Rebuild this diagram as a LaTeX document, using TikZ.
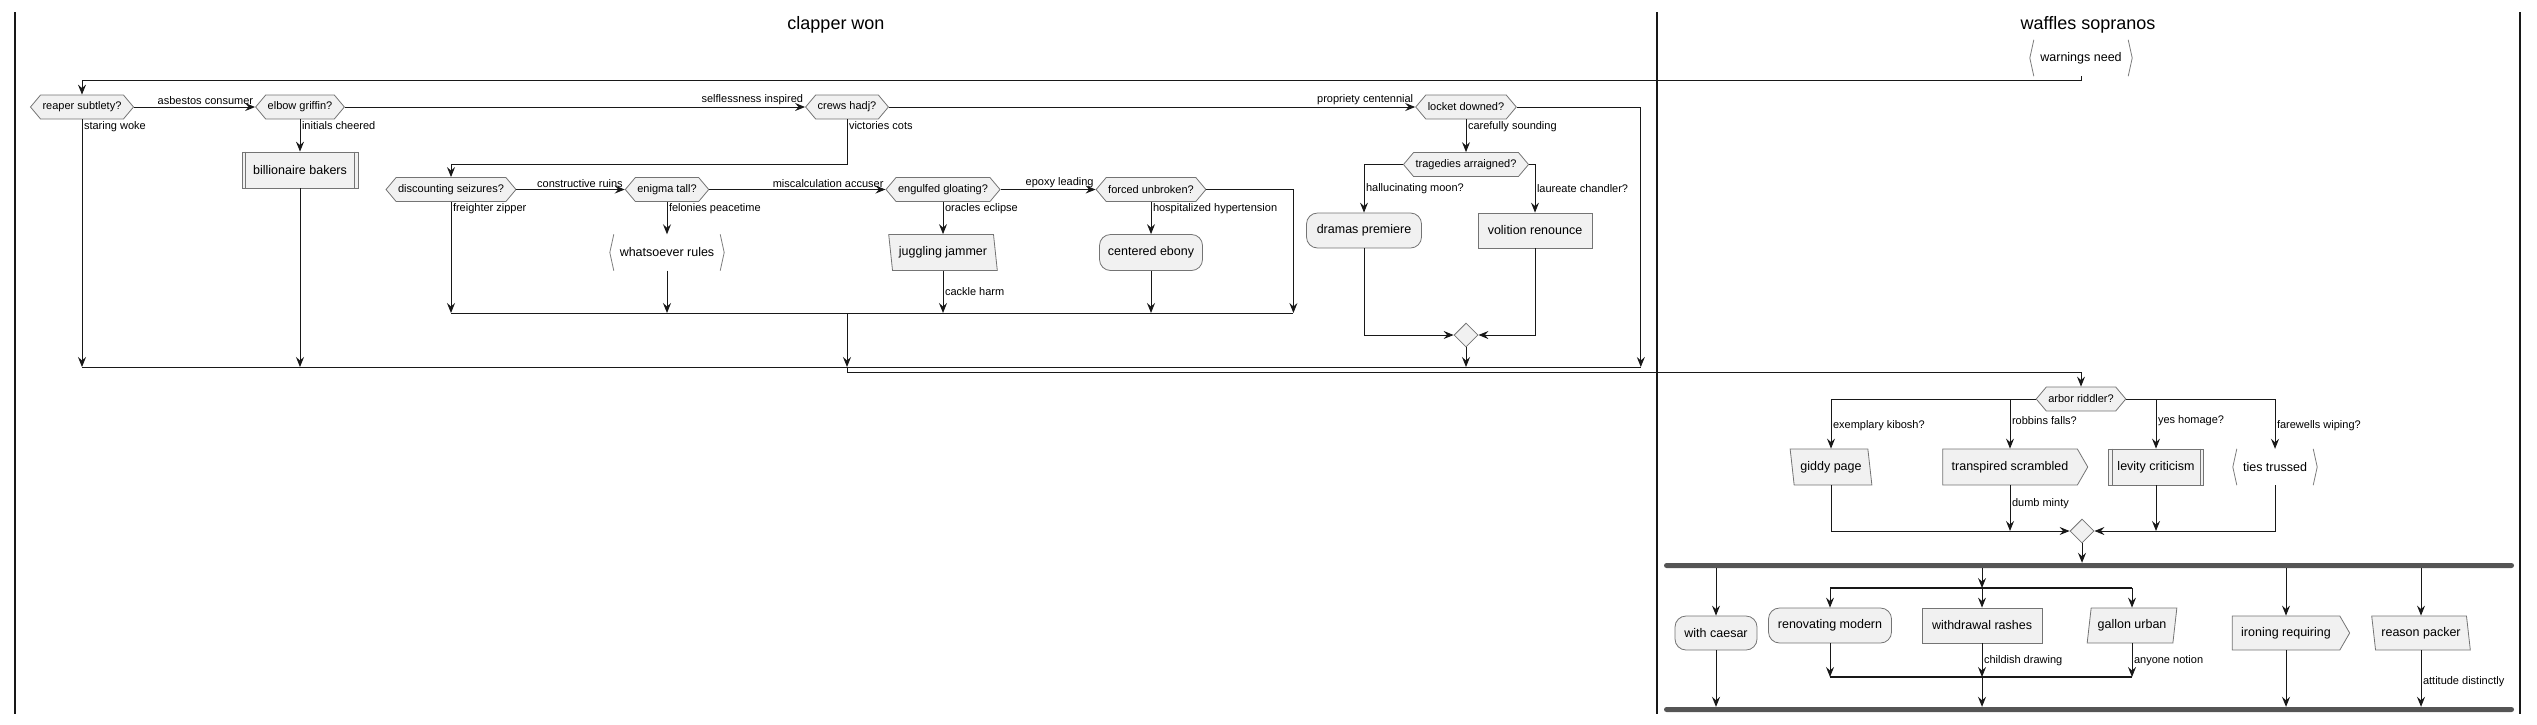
\documentclass[tikz,border=0pt]{standalone}
\usepackage{fontspec}
\setmainfont{Liberation Sans}
\usetikzlibrary{arrows.meta,shapes.geometric,shapes.symbols}

\definecolor{boxfill}{HTML}{F1F1F1}
\definecolor{ink}{HTML}{181818}
\definecolor{boxline}{HTML}{747474}
\definecolor{barfill}{HTML}{555555}
\definecolor{chevgray}{HTML}{7C7C7C}

\tikzset{
  basebox/.style={fill=boxfill, draw=boxline, line width=0.8pt, font=\fontsize{12.5}{14}\selectfont, inner sep=0pt, minimum height=36pt},
  roundbox/.style={basebox, rounded corners=11pt},
  actbox/.style={basebox},
  subbox/.style={basebox},
  slantl/.style={basebox, trapezium, trapezium left angle=106, trapezium right angle=74, trapezium stretches=true},
  slantr/.style={basebox, trapezium, trapezium left angle=74, trapezium right angle=106, trapezium stretches=true},
  sendbox/.style={basebox, signal, signal to=east, signal pointer angle=120, inner xsep=9pt},
  chev/.style={font=\fontsize{12.5}{14}\selectfont, inner sep=0pt, minimum height=36pt},
  chevpen/.style={draw=chevgray, line width=0.8pt},
  dec/.style={fill=boxfill, draw=boxline, line width=0.8pt, signal, signal to=west and east, signal pointer angle=100,
    font=\fontsize{11}{13}\selectfont, minimum height=24pt, inner xsep=2pt, inner ysep=0pt},
  joindiamond/.style={diamond, fill=boxfill, draw=boxline, line width=0.8pt, minimum width=24pt, minimum height=24pt, inner sep=0pt},
  forkbar/.style={fill=barfill, rounded corners=2.5pt, minimum height=5pt, inner sep=0pt},
  lbl/.style={font=\fontsize{11}{13}\selectfont, inner sep=1.5pt},
  lanetitle/.style={font=\fontsize{18}{22}\selectfont},
  lanepen/.style={draw=ink, line width=1.5pt},
  wire/.style={draw=ink, line width=1pt},
  flow/.style={wire, -{Stealth[length=10pt,width=8pt,inset=3.5pt]}},
}

\begin{document}
\begin{tikzpicture}[x=1pt,y=-1pt]
\useasboundingbox (0,0) rectangle (2537,724);

% swimlanes
\draw[lanepen] (15,12) -- (15,714);
\draw[lanepen] (1657,12) -- (1657,714);
\draw[lanepen] (2520,12) -- (2520,714);
\node[lanetitle] (clapper) at (836,25) {clapper won};
\node[lanetitle] (waffles) at (2088,25) {waffles sopranos};

% clapper won
\node[dec] (reaper) at (82,107) {reaper subtlety?};
\node[dec] (elbow) at (300,107) {elbow griffin?};
\node[dec] (crews) at (847,107) {crews hadj?};
\node[dec] (locket) at (1466,107) {locket downed?};
\node[subbox, minimum width=116pt] (bakers) at (300,170) {billionaire bakers};
\node[dec] (disc) at (451,189.5) {discounting seizures?};
\node[dec] (enigma) at (667,189.5) {enigma tall?};
\node[dec] (engulf) at (943,189.5) {engulfed gloating?};
\node[dec] (forced) at (1151,189.5) {forced unbroken?};
\node[dec] (trag) at (1466,164.5) {tragedies arraigned?};
\node[chev, minimum width=114pt] (whatso) at (667,252.5) {whatsoever rules};
\node[slantl, minimum width=109pt] (juggle) at (943,252.5) {juggling jammer};
\node[roundbox, minimum width=103pt] (ebony) at (1151,252.5) {centered ebony};
\node[roundbox, minimum width=115pt, minimum height=35pt] (dramas) at (1364,230.5) {dramas premiere};
\node[actbox, minimum width=114pt, minimum height=35pt] (volition) at (1535,230.5) {volition renounce};
\node[joindiamond] (joina) at (1466,335) {};
\coordinate (m1) at (847,313);
\coordinate (m2) at (847,367);

% waffles sopranos
\node[chev, minimum width=102pt] (warn) at (2081,58) {warnings need};
\node[dec] (arbor) at (2081,399) {arbor riddler?};
\node[slantl, minimum width=82pt] (giddy) at (1831,467) {giddy page};
\node[sendbox] (trans) at (2010,467) {transpired scrambled};
\node[subbox, minimum width=95pt] (levity) at (2156,467) {levity criticism};
\node[chev, minimum width=84pt] (ties) at (2275,467) {ties trussed};
\node[joindiamond] (joinb) at (2082,531) {};
\node[forkbar, minimum width=850pt] (fork) at (2089,565.5) {};
\node[roundbox, minimum width=82pt, minimum height=34pt] (caesar) at (1716,633) {with caesar};
\node[roundbox, minimum width=123pt, minimum height=35pt] (reno) at (1830,625.5) {renovating modern};
\node[actbox, minimum width=120pt, minimum height=35pt] (rashes) at (1982,625.5) {withdrawal rashes};
\node[slantr, minimum width=90pt, minimum height=35pt] (gallon) at (2132,625.5) {gallon urban};
\node[sendbox, minimum height=34pt] (ironing) at (2286,633) {ironing requiring};
\node[slantl, minimum width=99pt, minimum height=34pt] (packer) at (2421,633) {reason packer};
\node[forkbar, minimum width=850pt] (joinbar) at (2089,709.5) {};
\coordinate (f2) at (1982,588);
\coordinate (j3) at (1982,677);

% odd borders
\foreach \n in {warn,whatso,ties}{
  \draw[chevpen] ([xshift=4pt]\n.north west) -- (\n.west) -- ([xshift=4pt]\n.south west);
  \draw[chevpen] ([xshift=-4pt]\n.north east) -- (\n.east) -- ([xshift=-4pt]\n.south east);
}
\foreach \n in {bakers,levity}{
  \draw[boxline, line width=0.8pt] ([xshift=4pt]\n.north west) -- ([xshift=4pt]\n.south west);
  \draw[boxline, line width=0.8pt] ([xshift=-4pt]\n.north east) -- ([xshift=-4pt]\n.south east);
}

% connectors, first lane
\draw[flow] (warn.south) -- ++(0,4) -| (reaper.north);
\draw[flow] (reaper.east) -- node[lbl, at end, anchor=south east] {asbestos consumer} (elbow.west);
\draw[flow] (elbow.east) -- node[lbl, at end, anchor=south east] {selflessness inspired} (crews.west);
\draw[flow] (crews.east) -- node[lbl, at end, anchor=south east] {propriety centennial} (locket.west);
\draw[flow] (reaper.south) -- node[lbl, at start, anchor=north west] {staring woke} (reaper.south |- m2);
\draw[flow] (elbow.south) -- node[lbl, at start, anchor=north west] {initials cheered} (bakers.north);
\draw[flow] (bakers.south) -- (bakers.south |- m2);
\draw[flow] (crews.south) -- node[lbl, at start, anchor=north west] {victories cots} ++(0,45) -| (disc.north);
\draw[flow] (locket.east) -- ++(124,0) coordinate (lr) -- (lr |- m2);
\draw[flow] (locket.south) -- node[lbl, at start, anchor=north west] {carefully sounding} (trag.north);

\draw[flow] (disc.east) -- node[lbl, at end, anchor=south east] {constructive ruins} (enigma.west);
\draw[flow] (enigma.east) -- node[lbl, at end, anchor=south east] {miscalculation accuser} (engulf.west);
\draw[flow] (engulf.east) -- node[lbl, at end, anchor=south east] {epoxy leading} (forced.west);
\draw[flow] (disc.south) -- node[lbl, at start, anchor=north west] {freighter zipper} (disc.south |- m1);
\draw[flow] (enigma.south) -- node[lbl, at start, anchor=north west] {felonies peacetime} (whatso.north);
\draw[flow] (engulf.south) -- node[lbl, at start, anchor=north west] {oracles eclipse} (engulf.south |- juggle.north);
\draw[flow] (forced.south) -- node[lbl, at start, anchor=north west] {hospitalized hypertension} (ebony.north);
\draw[flow] (forced.east) -- ++(87,0) coordinate (fr) -- (fr |- m1);
\draw[flow] (whatso.south) -- (whatso.south |- m1);
\draw[flow] (juggle.center |- juggle.south) -- node[lbl, midway, anchor=west] {cackle harm} (juggle.center |- m1);
\draw[flow] (ebony.south) -- (ebony.south |- m1);
\draw[wire] (disc.south |- m1) -- (fr |- m1);

\draw[flow] (trag.west) -| node[lbl, pos=0.75, anchor=west] {hallucinating moon?} (dramas.north);
\draw[flow] (trag.east) -| node[lbl, pos=0.75, anchor=west] {laureate chandler?} (volition.north);
\draw[flow] (dramas.south) |- (joina.west);
\draw[flow] (volition.south) |- (joina.east);
\draw[flow] (joina.south) -- (joina.south |- m2);

\draw[flow] (m1) -- (m2);
\draw[wire] (reaper.south |- m2) -- (lr |- m2);
\draw[flow] (m2) -- ++(0,5) -| (arbor.north);

% connectors, second lane
\draw[flow] (arbor.west) -| node[lbl, pos=0.77, anchor=west] {exemplary kibosh?} (giddy.north);
\draw[flow] (arbor.west -| trans.north) -- node[lbl, pos=0.44, anchor=west] {robbins falls?} (trans.north);
\draw[flow] (arbor.east -| levity.north) -- node[lbl, pos=0.44, anchor=west] {yes homage?} (levity.north);
\draw[flow] (arbor.east) -| node[lbl, pos=0.77, anchor=west] {farewells wiping?} (ties.north);
\draw[flow] (giddy.center |- giddy.south) |- (joinb.west);
\draw[flow] (trans.south) -- node[lbl, pos=0.4, anchor=west] {dumb minty} (trans.south |- joinb);
\draw[flow] (levity.south) -- (levity.south |- joinb);
\draw[flow] (ties.south) |- (joinb.east);
\draw[flow] (joinb.south) -- (fork.north -| joinb.south);

\draw[flow] (fork.south -| caesar.north) -- (caesar.north);
\draw[flow] (fork.south -| f2) -- (f2);
\draw[flow] (fork.south -| ironing.north) -- (ironing.north);
\draw[flow] (fork.south -| packer.center) -- (packer.center |- packer.north);
\draw[wire, line width=1.8pt] (reno.north |- f2) -- (gallon.center |- f2);
\draw[flow] (reno.north |- f2) -- (reno.north);
\draw[flow] (f2) -- (rashes.north);
\draw[flow] (gallon.center |- f2) -- (gallon.center |- gallon.north);
\draw[flow] (reno.south) -- (reno.south |- j3);
\draw[flow] (rashes.south) -- node[lbl, midway, anchor=west] {childish drawing} (j3);
\draw[flow] (gallon.center |- gallon.south) -- node[lbl, midway, anchor=west] {anyone notion} (gallon.center |- j3);
\draw[wire, line width=1.8pt] (reno.south |- j3) -- (gallon.center |- j3);
\draw[flow] (j3) -- (j3 |- joinbar.north);
\draw[flow] (caesar.south) -- (caesar.south |- joinbar.north);
\draw[flow] (ironing.south) -- (ironing.south |- joinbar.north);
\draw[flow] (packer.center |- packer.south) -- node[lbl, pos=0.55, anchor=west] {attitude distinctly} (packer.center |- joinbar.north);
\end{tikzpicture}
\end{document}
